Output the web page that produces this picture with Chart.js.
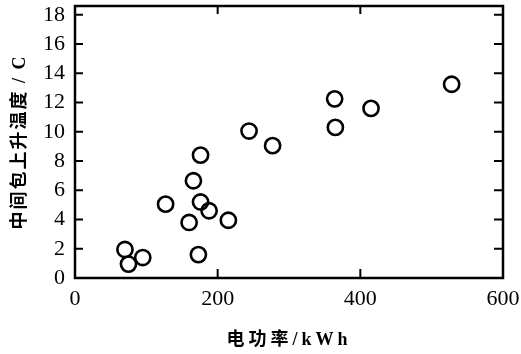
<!DOCTYPE html>
<html>
<head>
<meta charset="utf-8">
<script src="https://cdn.jsdelivr.net/npm/chart.js@4.4.1/dist/chart.umd.min.js"></script>
<style>
  html, body { margin: 0; padding: 0; background: #fff; }
  #wrap { width: 521px; height: 354px; }
</style>
</head>
<body>
<div id="wrap"><canvas id="chart" width="521" height="354"></canvas></div>
<script>
// electric power (kWh) vs tundish temperature rise (C)
const powerKWh = [70, 75, 95, 173, 160, 215, 188, 176, 127, 166, 176, 244, 277, 364, 365, 415, 528];
const tempRise = [1.95, 0.95, 1.4, 1.6, 3.8, 3.95, 4.6, 5.2, 5.05, 6.65, 8.4, 10.05, 9.05, 12.25, 10.3, 11.6, 13.25];

const xTicks = [0, 200, 400, 600];
const yTicks = [0, 2, 4, 6, 8, 10, 12, 14, 16, 18];
const xTitle = '电功率/kWh';
const yTitle = '中间包上升温度 / C';

const serif = "'Liberation Serif', 'Times New Roman', 'Noto Sans CJK SC', serif";

// no label overhang padding, spaced-out axis titles like the printed figure
function fixScale(spacing) {
  return s => {
    s.paddingTop = 0; s.paddingBottom = 0; s.paddingLeft = 0; s.paddingRight = 0;
    if (s._fixed) return;
    s._fixed = true;
    const orig = s.drawTitle;
    s.drawTitle = function () {
      this.ctx.letterSpacing = spacing;
      orig.call(this);
      this.ctx.letterSpacing = '0px';
    };
  };
}

// frame box + inward tick marks
const framePlugin = {
  id: 'frame',
  afterDraw(chart) {
    const { ctx, chartArea: a, scales: { x, y } } = chart;
    ctx.save();
    ctx.strokeStyle = '#000';
    ctx.lineWidth = 2.5;
    ctx.strokeRect(a.left, a.top, a.right - a.left, a.bottom - a.top);
    ctx.lineWidth = 2;
    ctx.beginPath();
    yTicks.slice(1).forEach(v => {
      const py = y.getPixelForValue(v);
      ctx.moveTo(a.left, py); ctx.lineTo(a.left + 8, py);
      ctx.moveTo(a.right, py); ctx.lineTo(a.right - 9, py);
    });
    xTicks.slice(1, -1).forEach(v => {
      const px = x.getPixelForValue(v);
      ctx.moveTo(px, a.bottom); ctx.lineTo(px, a.bottom - 9);
      ctx.moveTo(px, a.top); ctx.lineTo(px, a.top + 8);
    });
    ctx.stroke();
    ctx.restore();
  }
};

new Chart(document.getElementById('chart'), {
  type: 'scatter',
  data: {
    datasets: [{
      data: powerKWh.map((p, i) => ({ x: p, y: tempRise[i] })),
      pointStyle: 'circle',
      pointRadius: 7.6,
      pointBorderWidth: 2.6,
      borderColor: '#000',
      backgroundColor: 'rgba(0,0,0,0)',
      pointHoverRadius: 7.6
    }]
  },
  options: {
    responsive: false,
    animation: false,
    layout: { autoPadding: false, padding: { left: 0, right: 18, top: 6, bottom: 0 } },
    plugins: { legend: { display: false }, tooltip: { enabled: false } },
    scales: {
      x: {
        type: 'linear',
        min: 0, max: 600,
        afterBuildTicks: s => { s.ticks = xTicks.map(v => ({ value: v })); },
        afterFit: s => { s.height = 76; fixScale('4px')(s); },
        grid: { display: false, drawTicks: false },
        border: { display: false },
        ticks: { color: '#000', padding: 8, autoSkip: false, font: { family: serif, size: 22 }, maxRotation: 0 },
        title: {
          display: true, text: xTitle, color: '#000',
          font: { family: serif, size: 18, weight: 'bold' },
          padding: { top: 0, bottom: 3 }
        }
      },
      y: {
        type: 'linear',
        min: 0, max: 18.6,
        afterBuildTicks: s => { s.ticks = yTicks.map(v => ({ value: v })); },
        afterFit: s => { s.width = 75; fixScale('2px')(s); },
        grid: { display: false, drawTicks: false },
        border: { display: false },
        ticks: { color: '#000', padding: 10, autoSkip: false, font: { family: serif, size: 22 } },
        title: {
          display: true, text: yTitle, color: '#000',
          font: { family: serif, size: 18, weight: 'bold' },
          padding: { top: 10, bottom: 0 }
        }
      }
    }
  },
  plugins: [framePlugin]
});
</script>
</body>
</html>
